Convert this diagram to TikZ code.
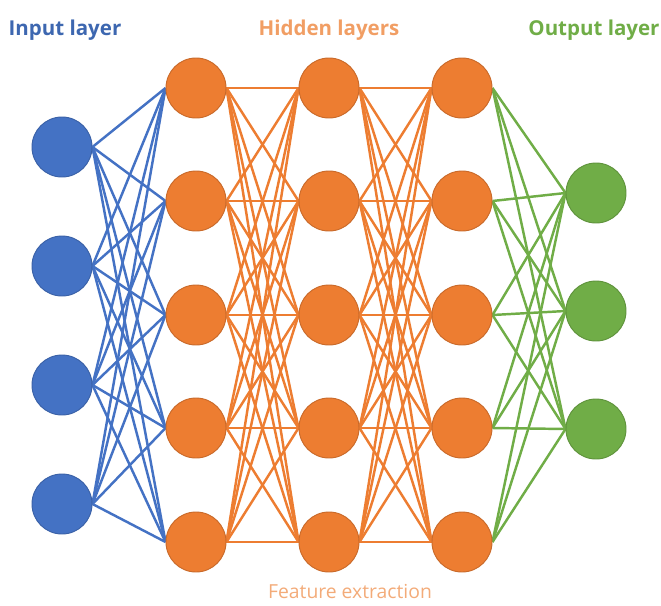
\documentclass[tikz,border=0pt]{standalone}
\usepackage{fontspec}
\setmainfont{Open Sans}
\usetikzlibrary{backgrounds}
\definecolor{inblue}{HTML}{4472C4}
\definecolor{hidorange}{HTML}{ED7D31}
\definecolor{outgreen}{HTML}{70AD47}
\tikzset{
  neuron/.style={circle,draw=#1!85!black,fill=#1,line width=0.8pt,inner sep=0pt,minimum size=1.8cm},
  synapse/.style={line width=2.1pt,#1}
}

\begin{document}
\begin{tikzpicture}[x=0.03cm,y=-0.03cm]
      \useasboundingbox (0,0) rectangle (661,606);
      \draw
        (62, 147) node[neuron=inblue] (i1){}
        (62, 266) node[neuron=inblue] (i2){}
        (62, 385) node[neuron=inblue] (i3){}
        (62, 504) node[neuron=inblue] (i4){}
        (196, 88) node[neuron=hidorange] (a1){}
        (196, 201) node[neuron=hidorange] (a2){}
        (196, 315) node[neuron=hidorange] (a3){}
        (196, 428) node[neuron=hidorange] (a4){}
        (196, 542) node[neuron=hidorange] (a5){}
        (329, 88) node[neuron=hidorange] (b1){}
        (329, 201) node[neuron=hidorange] (b2){}
        (329, 315) node[neuron=hidorange] (b3){}
        (329, 428) node[neuron=hidorange] (b4){}
        (329, 542) node[neuron=hidorange] (b5){}
        (462, 88) node[neuron=hidorange] (c1){}
        (462, 201) node[neuron=hidorange] (c2){}
        (462, 315) node[neuron=hidorange] (c3){}
        (462, 428) node[neuron=hidorange] (c4){}
        (462, 542) node[neuron=hidorange] (c5){}
        (596, 193) node[neuron=outgreen] (o1){}
        (596, 311) node[neuron=outgreen] (o2){}
        (596, 429) node[neuron=outgreen] (o3){};
      \draw
        (65, 30) node[text=inblue!90!black,font=\bfseries\fontsize{17.5}{21}\selectfont] (tin){Input layer}
        (329, 30) node[text=hidorange!75,font=\bfseries\fontsize{17.5}{21}\selectfont] (thid){Hidden layers}
        (594, 30) node[text=outgreen,font=\bfseries\fontsize{17.5}{21}\selectfont] (tout){Output layer}
        (350, 591) node[text=hidorange!65,font=\fontsize{16.5}{20}\selectfont] (tfeat){Feature extraction};
      \begin{scope}[on background layer]
        \foreach \s in {1,...,4}
          \foreach \t in {1,...,5}
            \draw[synapse=inblue] (i\s.east) -- (a\t.west);
        \foreach \s in {1,...,5}
          \foreach \t in {1,...,5} {
            \draw[synapse=hidorange] (a\s.east) -- (b\t.west);
            \draw[synapse=hidorange] (b\s.east) -- (c\t.west);
          }
        \foreach \s in {1,...,5}
          \foreach \t in {1,...,3}
            \draw[synapse=outgreen] (c\s.east) -- (o\t.west);
      \end{scope}
    \end{tikzpicture}
\end{document}
